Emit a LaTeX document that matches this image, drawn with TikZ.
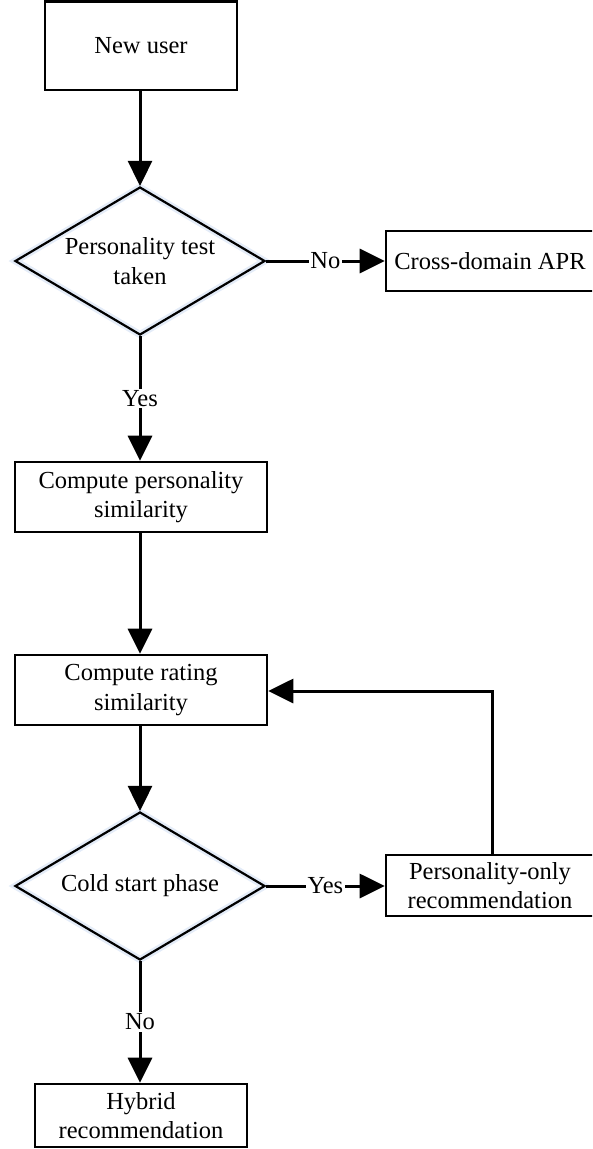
\documentclass[tikz,border=0pt]{standalone}
\usepackage{fontspec}
\setmainfont{Liberation Serif}
\usetikzlibrary{arrows.meta,shapes.geometric,positioning}
\definecolor{glow}{RGB}{228,236,248}
\tikzset{
  base/.style={font=\fontsize{24.5}{29.5}\selectfont, align=center, inner sep=0pt},
  procbox/.style={base, draw, line width=2.6pt, rectangle},
  decision/.style={base, draw, line width=2.2pt, shape=diamond, shape aspect=1.69,
     minimum width=250pt, minimum height=148pt,
     preaction={draw=glow, line width=7pt}},
  arr/.style={line width=3pt, -{Triangle[length=25pt,width=24pt]}},
  lbl/.style={base, fill=white, inner sep=1.5pt},
}
\begin{document}
\begin{tikzpicture}[x=1pt,y=-1pt]
\useasboundingbox (0,0) rectangle (592,1149);
\clip (0,0) rectangle (592,1149);
\node[procbox, minimum width=192pt, minimum height=88.5pt] (new) at (141,45.75) {New user};
\node[decision] (d1) at (140,261) {Personality test\\taken};
\node[procbox, minimum width=208pt, minimum height=60pt] (cda) at (490,261) {Cross-domain APR};
\node[procbox, minimum width=252pt, minimum height=70pt] (cps) at (141,497) {Compute personality\\similarity};
\node[procbox, minimum width=252pt, minimum height=70pt] (crs) at (141,690) {Compute rating\\similarity};
\node[decision] (d2) at (140,886) {Cold start phase};
\node[procbox, minimum width=208pt, minimum height=61pt] (po) at (490,885.5) {Personality-only\\recommendation};
\node[procbox, minimum width=212pt, minimum height=63pt] (hy) at (141,1115.5) {Hybrid\\recommendation};
\coordinate (fb) at (492,691);

\draw[arr] (new.south -| d1.north) -- (d1.north);
\draw[arr] (d1.east) -- node[lbl] {No} (cda.west);
\draw[arr] (d1.south) -- node[lbl] {Yes} (cps.north -| d1.south);
\draw[arr] (cps.south -| d1.south) -- (crs.north -| d1.south);
\draw[arr] (crs.south -| d2.north) -- (d2.north);
\draw[arr] (d2.east) -- node[lbl] {Yes} (po.west |- d2.east);
\draw[arr] (po.north -| fb) -- (fb) -- (crs.east |- fb);
\draw[arr] (d2.south) -- node[lbl] {No} (hy.north -| d2.south);
\end{tikzpicture}
\end{document}
